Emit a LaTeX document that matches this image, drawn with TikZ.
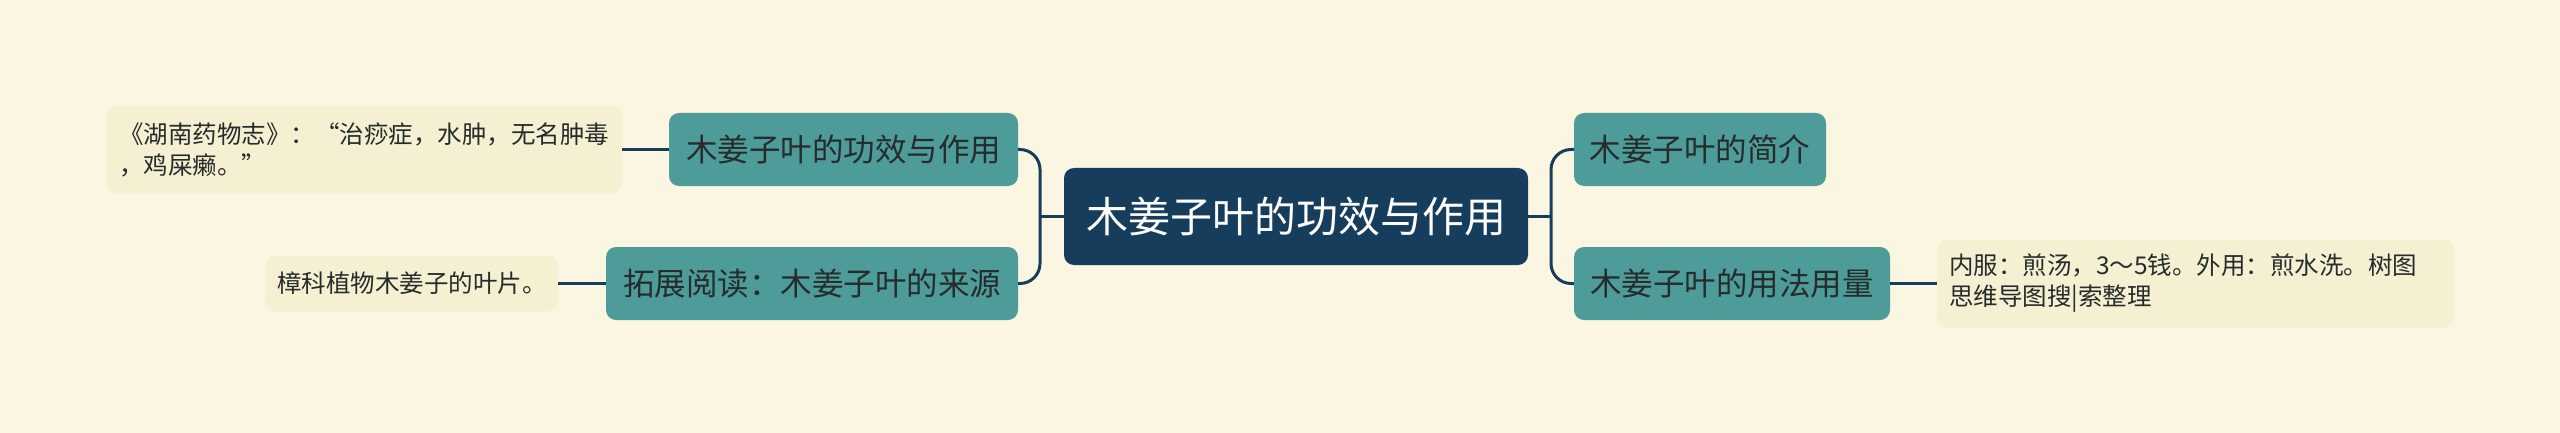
\documentclass[tikz,border=0pt]{standalone}
\usepackage{fontspec}
\setmainfont{Noto Sans CJK SC}
\definecolor{bgc}{HTML}{FBF6E2}
\definecolor{leafc}{HTML}{F6F0D3}
\definecolor{tealc}{HTML}{4D9C9A}
\definecolor{navyc}{HTML}{173D5C}
\definecolor{txtc}{HTML}{262B2B}
\tikzset{
  rootbox/.style={draw=none, fill=navyc, rounded corners=10, text=white, inner sep=0, minimum width=464, minimum height=97, font=\fontsize{42}{50}\selectfont},
  branchbox/.style={draw=none, fill=tealc, rounded corners=10, text=txtc, inner sep=0, minimum height=73, font=\fontsize{31.5}{38}\selectfont},
  leafbox/.style={draw=none, fill=leafc, rounded corners=10, text=txtc, inner xsep=12, inner ysep=0, align=left, font=\fontsize{24.5}{31}\selectfont},
  conn/.style={draw=navyc, line width=3},
}
\begin{document}
\begin{tikzpicture}[x=1pt,y=-1pt]
\useasboundingbox (0,0) rectangle (2560,433);
\fill[bgc] (0,0) rectangle (2560,433);
\node[rootbox] (root) at (1296,216.5) {木姜子叶的功效与作用};
\node[branchbox, minimum width=349] (L1) at (843.5,149.5) {木姜子叶的功效与作用};
\node[branchbox, minimum width=412] (L2) at (812,283.5) {拓展阅读：木姜子叶的来源};
\node[branchbox, minimum width=252] (R1) at (1700,149.5) {木姜子叶的简介};
\node[branchbox, minimum width=316] (R2) at (1732,283.5) {木姜子叶的用法用量};
\node[leafbox, text width=491, minimum height=88] (A1) at (364.5,149.5) {《湖南药物志》：“治痧症，水肿，无名肿毒\\，鸡屎癞。”};
\node[leafbox, text width=269, minimum height=56] (A2) at (411.5,283.5) {樟科植物木姜子的叶片。};
\node[leafbox, text width=493, minimum height=88] (A3) at (2195.5,283.5) {内服：煎汤，3～5钱。外用：煎水洗。树图\\思维导图搜|索整理};
\coordinate (bl) at (1040,216.5);
\coordinate (br) at (1551,216.5);
\draw[conn, rounded corners=20] (L1.east) -| (bl) |- (L2.east);
\draw[conn] (root.west) -- (bl);
\draw[conn, rounded corners=20] (R1.west) -| (br) |- (R2.west);
\draw[conn] (root.east) -- (br);
\draw[conn] (A1.east) -- (L1.west);
\draw[conn] (A2.east) -- (L2.west);
\draw[conn] (R2.east) -- (A3.west);
\end{tikzpicture}
\end{document}
